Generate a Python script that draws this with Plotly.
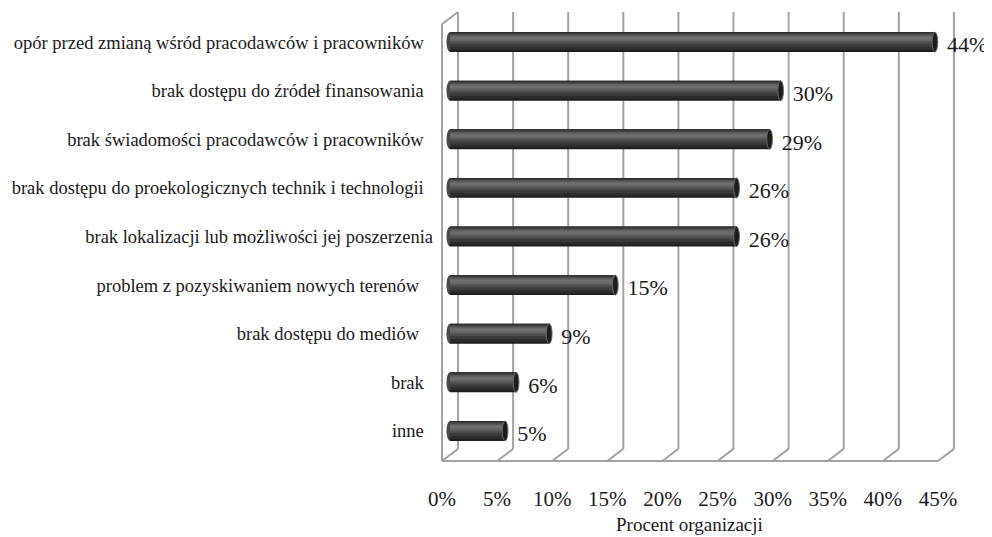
import plotly.graph_objects as go

NB = "\u00a0"
categories = [
    "opór przed zmianą wśród pracodawców i pracowników" + NB * 2,
    "brak dostępu do źródeł finansowania" + NB * 2,
    "brak świadomości pracodawców i pracowników" + NB * 2,
    "brak dostępu do proekologicznych technik i technologii" + NB * 2,
    "brak lokalizacji lub możliwości jej poszerzenia",
    "problem z pozyskiwaniem nowych terenów" + NB * 3,
    "brak dostępu do mediów" + NB * 3,
    "brak" + NB * 2,
    "inne" + NB * 2,
]
values = [44, 30, 29, 26, 26, 15, 9, 6, 5]
tick_values = [0, 5, 10, 15, 20, 25, 30, 35, 40, 45]
tick_labels = ["0%", "5%", "10%", "15%", "20%", "25%", "30%", "35%", "40%", "45%"]

FONT = "Liberation Serif"
GRID = "#a3a3a3"
DEPTH = 1.45          # perspective depth offset (x units)
MID = DEPTH / 2       # bars sit at mid-depth
FLOOR_FRONT, FLOOR_BACK = 8.62, 8.37
TOP_BACK, TOP_FRONT = -0.62, -0.37
HALF = 0.205          # half bar thickness

n = len(categories)
idx = list(range(n))

fig = go.Figure()

# cylinder body: dark base + lighter bands (shading)
bands = [
    (-HALF, 2 * HALF, "#1e1e1e"),
    (-HALF, 0.37, "#2c2c2c"),
    (-0.185, 0.29, "#3c3c3c"),
    (-0.165, 0.21, "#4c4c4c"),
    (-0.145, 0.15, "#5a5a5a"),
    (-0.125, 0.10, "#666666"),
    (-0.105, 0.05, "#6e6e6e"),
]
for off, w, col in bands:
    fig.add_trace(go.Bar(
        y=idx, x=values, base=[MID] * n, orientation="h",
        width=[w] * n, offset=[off] * n,
        marker=dict(color=col, line=dict(width=0)),
        hoverinfo="skip", showlegend=False,
    ))

# value labels
fig.add_trace(go.Scatter(
    x=[v + MID + 1.1 for v in values], y=[i + 0.1 for i in idx],
    mode="text", text=[f"{v}%" for v in values], textposition="middle right",
    textfont=dict(family=FONT, size=22, color="#1a1a1a"),
    cliponaxis=False, hoverinfo="skip", showlegend=False,
))

shapes = []
# back wall gridlines and floor diagonals
for t in tick_values:
    shapes.append(dict(type="line", xref="x", yref="y", x0=t + DEPTH, x1=t + DEPTH,
                       y0=FLOOR_BACK, y1=TOP_BACK, line=dict(color=GRID, width=2), layer="below"))
    shapes.append(dict(type="line", xref="x", yref="y", x0=t, x1=t + DEPTH,
                       y0=FLOOR_FRONT, y1=FLOOR_BACK, line=dict(color=GRID, width=2), layer="below"))
# floor front edge
shapes.append(dict(type="line", xref="x", yref="y", x0=tick_values[0], x1=tick_values[-1],
                   y0=FLOOR_FRONT, y1=FLOOR_FRONT, line=dict(color=GRID, width=2), layer="below"))
# left side wall
shapes.append(dict(type="line", xref="x", yref="y", x0=0, x1=0,
                   y0=FLOOR_FRONT, y1=TOP_FRONT, line=dict(color=GRID, width=2), layer="below"))
shapes.append(dict(type="line", xref="x", yref="y", x0=0, x1=DEPTH,
                   y0=TOP_FRONT, y1=TOP_BACK, line=dict(color=GRID, width=2), layer="below"))
# left rounded caps
for i in idx:
    shapes.append(dict(type="circle", xref="x", yref="y", x0=MID - 0.32, x1=MID + 0.32,
                       y0=i - HALF, y1=i + HALF, fillcolor="#4a4a4a",
                       line=dict(width=0), layer="below"))
# right end caps
for i, v in zip(idx, values):
    shapes.append(dict(type="circle", xref="x", yref="y", x0=v + MID - 0.26, x1=v + MID + 0.26,
                       y0=i - HALF, y1=i + HALF, fillcolor="#1c1c1c",
                       line=dict(color="#6a6a6a", width=1), layer="above"))

# page body has an 8px margin, so the figure is sized to fit inside the window
fig.update_layout(
    template="none",
    width=984, height=529,
    margin=dict(l=432, r=21, t=2, b=74, autoexpand=False),
    plot_bgcolor="white", paper_bgcolor="white",
    barmode="overlay",
    shapes=shapes,
    font=dict(family=FONT, color="#1a1a1a"),
    xaxis=dict(range=[-0.1815, 48], tickvals=tick_values, ticktext=tick_labels,
               showgrid=False, zeroline=False, showline=False, automargin=False,
               ticks="", ticklabelstandoff=21,
               tickfont=dict(family=FONT, size=21, color="#1a1a1a")),
    yaxis=dict(range=[FLOOR_FRONT + 0.04, TOP_BACK - 0.04], tickvals=idx, ticktext=categories,
               showgrid=False, zeroline=False, showline=False, automargin=False,
               ticks="", ticklabelstandoff=6,
               tickfont=dict(family=FONT, size=18.5, color="#1a1a1a")),
    annotations=[dict(text="Procent organizacji", xref="x", yref="paper",
                      x=22.5, y=0, yshift=-61, yanchor="middle", showarrow=False,
                      font=dict(family=FONT, size=19, color="#1a1a1a"))],
)

fig.write_html("out.html")
